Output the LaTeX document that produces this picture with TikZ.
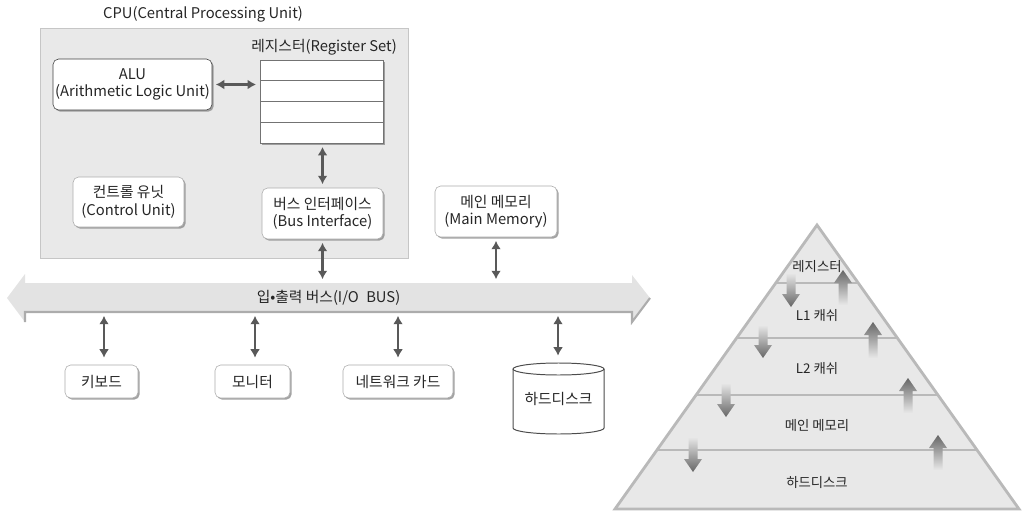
\documentclass[tikz,border=0pt]{standalone}
\usepackage{fontspec}
\setmainfont{Noto Sans CJK KR}
\usetikzlibrary{arrows.meta,shadows}

\begin{document}
\begin{tikzpicture}[x=0.025cm, y=-0.025cm,
  box/.style={draw=gray!65, rounded corners=4pt, fill=white, align=center,
              inner sep=0pt, text=black!85, font=\fontsize{10.5}{12.5}\selectfont,
              drop shadow={shadow xshift=1.2pt, shadow yshift=-1.2pt, fill=black!45, opacity=0.8}},
  regrow/.style={draw=black!55, line width=0.6pt, fill=white, minimum width=3.075cm,
              minimum height=0.519cm, inner sep=0pt,
              drop shadow={shadow xshift=1.2pt, shadow yshift=-1.2pt, fill=black!45, opacity=0.8}},
  con/.style={{Latex[length=6pt,width=7pt]}-{Latex[length=6pt,width=7pt]}, line width=1.5pt,
              black!65, shorten <=2.5pt, shorten >=2.5pt},
  lbl/.style={font=\fontsize{10.5}{12.5}\selectfont, text=black!85},
  lvl/.style={font=\fontsize{9.5}{11}\selectfont, text=black!85},
  pyrline/.style={draw=gray!55, line width=2pt}
]
\useasboundingbox (0,0) rectangle (1024,518);

%% ---- CPU ----
\node[lbl] (cputitle) at (203,14) {CPU(Central Processing Unit)};
\node[draw=gray!45, fill=gray!17, minimum width=9.2cm, minimum height=5.75cm] (cpu) at (224,143) {};
\node[lbl] (reglbl) at (324,47) {레지스터(Register Set)};
\foreach \i/\y in {1/70.375, 2/91.125, 3/111.875, 4/132.625}
  \node[regrow] (reg\i) at (321.5,\y) {};

\node[box, draw=black!75, minimum width=3.975cm, minimum height=1.275cm] (alu) at (132.5,84.5)
  {ALU\\(Arithmetic Logic Unit)};
\node[box, minimum width=2.775cm, minimum height=1.25cm] (ctrl) at (128.5,202)
  {컨트롤 유닛\\(Control Unit)};
\node[box, minimum width=3.025cm, minimum height=1.275cm] (bif) at (322.5,213.5)
  {버스 인터페이스\\(Bus Interface)};
\node[box, minimum width=3.05cm, minimum height=1.275cm] (mem) at (496,211.5)
  {메인 메모리\\(Main Memory)};

%% ---- I/O bus ----
\fill[gray!22] (7,298) -- (25,274) -- (25,283) -- (632,283) -- (632,275) -- (650,298)
  -- (632,322) -- (632,312) -- (25,312) -- (25,322) -- cycle;
\draw[gray!65, line width=1.5pt] (25,322) -- (25,312) -- (632,312) -- (632,322) -- (650,298);
\node[lbl, minimum width=15.175cm, minimum height=0.725cm] (bus) at (328.5,297.5)
  {입•출력 버스(I/O\enspace BUS)};

%% ---- devices ----
\node[box, minimum width=1.825cm, minimum height=0.825cm] (kbd) at (101.5,381.5) {키보드};
\node[box, minimum width=1.875cm, minimum height=0.825cm] (mon) at (252.5,381.5) {모니터};
\node[box, minimum width=2.75cm, minimum height=0.825cm] (net) at (398,381.5) {네트워크 카드};

\path[fill=white] (513,369) -- (513,428)
  arc[start angle=180, end angle=360, x radius=1.1375cm, y radius=0.15cm] -- (604,369) -- cycle;
\draw[black!70, line width=0.7pt] (513,369) -- (513,428)
  arc[start angle=180, end angle=360, x radius=1.1375cm, y radius=0.15cm] -- (604,369);
\draw[black!70, line width=0.7pt, fill=white] (558.5,369) ellipse[x radius=1.1375cm, y radius=0.15cm];
\node[lbl, minimum width=2.275cm, minimum height=1.8cm] (hdd) at (558.5,399) {하드디스크};

%% connectors
\draw[con] (alu.east) -- (alu.east -| reg1.west);
\draw[con] (bif.north |- reg4.south) -- (bif.north);
\draw[con] (bif.south) -- (bif.south |- bus.north);
\draw[con] (mem.south) -- (mem.south |- bus.north);
\foreach \d/\x in {kbd/104, mon/255, net/398, hdd/558}
  \draw[con, shorten >=5pt] (bus.south -| \x,0) -- (\d.north -| \x,0);

%% ---- memory pyramid ----
\coordinate (apex) at (817,225);
\coordinate (bl) at (615,509);
\coordinate (br) at (1019,509);
\fill[gray!18] (apex) -- (bl) -- (br) -- cycle;
\begin{scope}
  \clip (apex) -- (bl) -- (br) -- cycle;
  \foreach \y in {283,338,395,450}
    \draw[pyrline] (600,\y) -- (1030,\y);
\end{scope}
\draw[pyrline, line join=miter] (apex) -- (bl) -- (br) -- cycle;

\node[lvl] (lv1) at (817,267) {레지스터};
\node[lvl] (lv2) at (817,315) {L1 캐쉬};
\node[lvl] (lv3) at (817,368) {L2 캐쉬};
\node[lvl] (lv4) at (817,425) {메인 메모리};
\node[lvl] (lv5) at (817,482) {하드디스크};

%% down / up arrows between levels
\foreach \x/\a/\b in {791/273/307, 763/325/358, 726/383/417, 693/437/472}
  \shade[top color=gray!18, bottom color=black!60]
    (\x-4.5,\a) -- (\x-4.5,\b-13) -- (\x-9,\b-13) -- (\x,\b) -- (\x+9,\b-13)
    -- (\x+4.5,\b-13) -- (\x+4.5,\a) -- cycle;
\foreach \x/\a/\b in {843/305/270, 873/358/322, 908/413/378, 938/470/435}
  \shade[top color=black!60, bottom color=gray!18]
    (\x-4.5,\a) -- (\x-4.5,\b+13) -- (\x-9,\b+13) -- (\x,\b) -- (\x+9,\b+13)
    -- (\x+4.5,\b+13) -- (\x+4.5,\a) -- cycle;

\end{tikzpicture}
\end{document}
